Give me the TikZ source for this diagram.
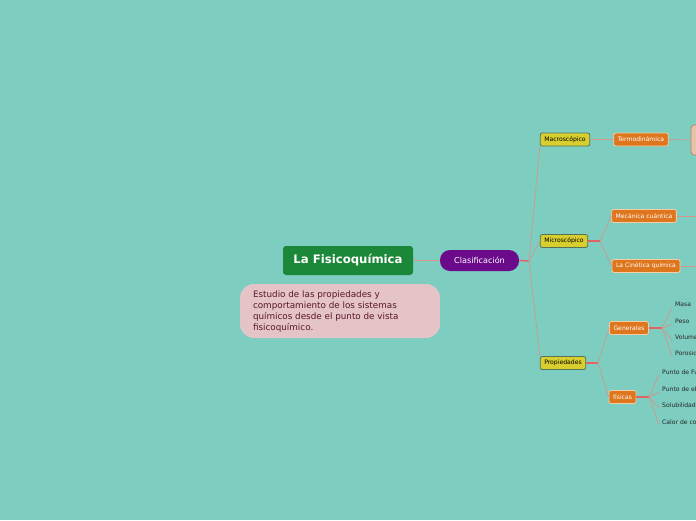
\documentclass[tikz,border=0pt]{standalone}
\usepackage{fontspec}
\setmainfont{DejaVu Sans}
\usetikzlibrary{positioning}
\definecolor{BgMap}{HTML}{7DCDC0}
\definecolor{MainGreen}{HTML}{1B8738}
\definecolor{NotePink}{HTML}{E5C4C8}
\definecolor{NoteText}{HTML}{5A1628}
\definecolor{TopicPurple}{HTML}{6B0A8A}
\definecolor{SubYellow}{HTML}{D8CF2E}
\definecolor{SubBorder}{HTML}{56735A}
\definecolor{LeafOrange}{HTML}{DE761E}
\definecolor{LeafBorder}{HTML}{F3CDA6}
\definecolor{CutBox}{HTML}{E6C2A6}
\definecolor{CutBorder}{HTML}{B48A6C}
\definecolor{LinkThin}{HTML}{D4968C}
\definecolor{LinkThick}{HTML}{E06464}

\tikzset{
  mainidea/.style={fill=MainGreen, text=white, rounded corners=3pt, minimum width=130pt,
    minimum height=29pt, inner sep=0pt, font=\bfseries\fontsize{11.7}{13}\selectfont},
  topic/.style={fill=TopicPurple, text=white, rounded corners=10pt, minimum width=79pt,
    minimum height=21pt, inner sep=0pt, font=\fontsize{8.1}{9}\selectfont},
  subtopic/.style={fill=SubYellow, draw=SubBorder, line width=0.8pt, text=black, rounded corners=2pt,
    minimum height=13pt, inner xsep=4pt, inner ysep=0pt, font=\fontsize{6.1}{7}\selectfont},
  detail/.style={fill=LeafOrange, draw=LeafBorder, line width=0.8pt, text=white, rounded corners=2pt,
    minimum height=13pt, inner xsep=4pt, inner ysep=0pt, font=\fontsize{6.1}{7}\selectfont},
  leaf/.style={anchor=west, text=black!85, inner sep=0pt, font=\fontsize{6.1}{7}\selectfont},
  thinlink/.style={draw=LinkThin, line width=0.7pt},
  thicklink/.style={draw=LinkThick, line width=1.4pt}
}

\begin{document}
\begin{tikzpicture}[x=1pt, y=-1pt]

  % Hintergrund
  \fill[BgMap] (0,0) rectangle (696,520);
  \clip (0,0) rectangle (696,520);

  % Zentrale Idee und Notiz
  \node[mainidea] (fisico) at (348,260.5) {La Fisicoquímica};
  \node[fill=NotePink, rounded corners=14pt, minimum width=200pt, minimum height=54pt,
        inner sep=0pt, text=NoteText, font=\fontsize{8.8}{11}\selectfont] (nota) at (340,311)
    {\parbox{174pt}{\vspace*{2pt}Estudio de las propiedades y\\comportamiento de los sistemas\\químicos desde el punto de vista\\fisicoquímico.}};

  % Hauptzweig
  \node[topic] (clasif) at (479.5,260.5) {Clasificación};
  \draw[thinlink] (fisico.east) -- (clasif.west);

  % Ebene 1
  \node[subtopic] (macro) at (565,139.5) {Macroscópico};
  \node[subtopic] (micro) at (564,241) {Microscópico};
  \node[subtopic] (props) at (563,363) {Propiedades};

  \coordinate (jclasif) at (529,261);
  \draw[thicklink] (clasif.east) -- (jclasif);
  \draw[thinlink] (jclasif) -- (macro.south west);
  \draw[thinlink] (jclasif) -- (micro.west);
  \draw[thinlink] (jclasif) -- (props.north west);

  % Ebene 2: Macroscopico
  \node[detail] (termo) at (641,139.5) {Termodinámica};
  \draw[thinlink] (macro.east) -- (termo.west);
  \filldraw[fill=CutBox, draw=CutBorder, line width=0.8pt, rounded corners=3pt] (691,125) rectangle (720,155);
  \coordinate (cutbox) at (691,140);
  \draw[thinlink] (termo.east) -- (cutbox);

  % Ebene 2: Microscopico
  \node[detail] (mecanica) at (644,216) {Mecánica cuántica};
  \node[detail] (cinetica) at (646,266) {La Cinética química};
  \coordinate (jmicro) at (600,241);
  \draw[thicklink] (micro.east) -- (jmicro);
  \draw[thinlink] (jmicro) -- (mecanica.west);
  \draw[thinlink] (jmicro) -- (cinetica.west);
  \coordinate (outmec) at (700,216);
  \coordinate (outcin) at (700,266);
  \draw[thinlink] (mecanica.east) -- (outmec);
  \draw[thinlink] (cinetica.east) -- (outcin);

  % Ebene 2: Propiedades
  \node[detail] (generales) at (629,328) {Generales};
  \node[detail] (fisicas) at (622.5,397) {físicas};
  \coordinate (jprops) at (598,363);
  \draw[thicklink] (props.east) -- (jprops);
  \draw[thinlink] (jprops) -- (generales.west);
  \draw[thinlink] (jprops) -- (fisicas.west);

  % Ebene 3: Blaetter
  \coordinate (jgen) at (662,328);
  \draw[thicklink] (generales.east) -- (jgen);
  \foreach \name/\yy/\txt in {masa/304/Masa, peso/321/Peso, volumen/337/Volumen, porosidad/353/Porosidad}{
    \node[leaf] (\name) at (675,\yy) {\txt};
    \draw[thinlink] (jgen) -- ([xshift=-3pt,yshift=-3pt]\name.west);
  }
  \coordinate (jfis) at (649,397);
  \draw[thicklink] (fisicas.east) -- (jfis);
  \foreach \name/\yy/\txt in {fusion/372/Punto de Fusión, ebullicion/389/Punto de ebullición,
                              solub/405/Solubilidad, calor/422/Calor de combustión}{
    \node[leaf] (\name) at (662,\yy) {\txt};
    \draw[thinlink] (jfis) -- ([xshift=-3pt,yshift=-3pt]\name.west);
  }

\end{tikzpicture}
\end{document}
